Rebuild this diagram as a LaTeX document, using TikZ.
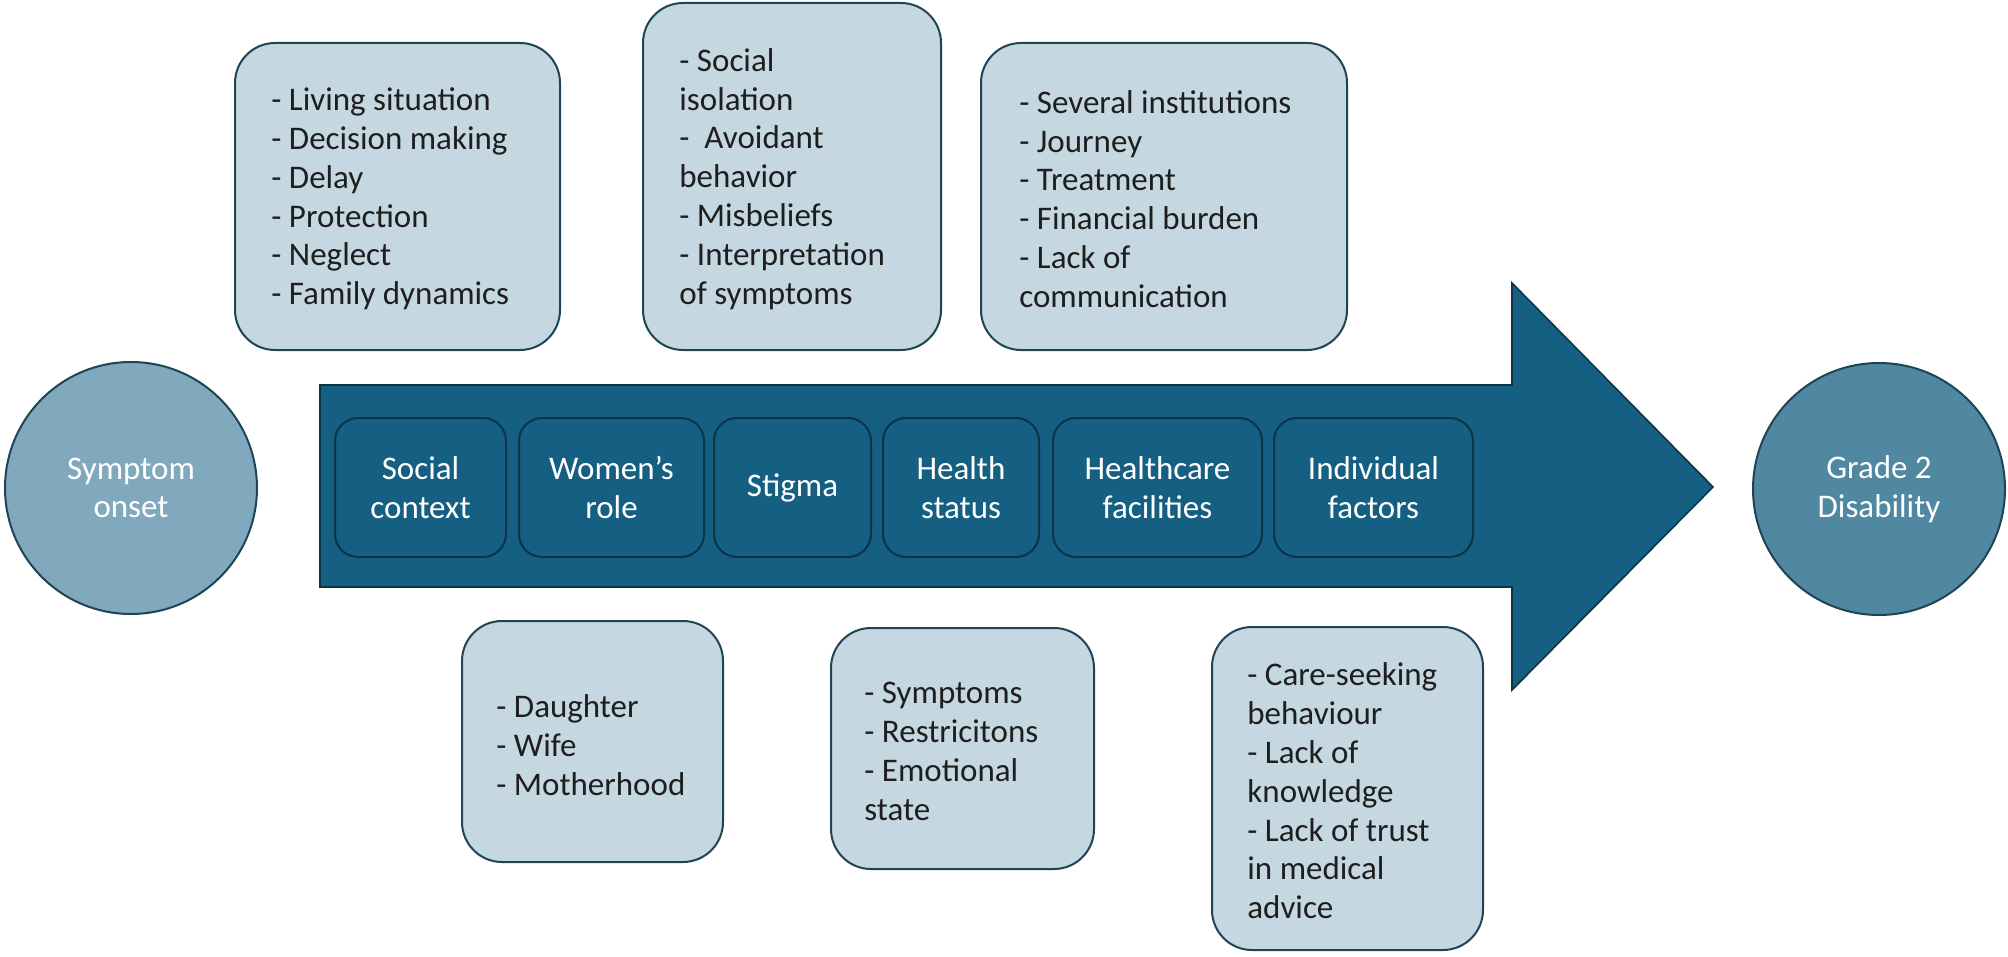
\documentclass[tikz,border=0pt]{standalone}
\usepackage{fontspec}
\setmainfont{Carlito}
\definecolor{accent}{HTML}{156082}
\definecolor{lightfill}{HTML}{C5D7E0}
\definecolor{onsetfill}{HTML}{80A9BD}
\definecolor{gradefill}{HTML}{5088A1}
\definecolor{edge}{HTML}{1F4456}
\definecolor{inneredge}{HTML}{0B3447}
\definecolor{textdark}{HTML}{1E1E1E}
\begin{document}
\begin{tikzpicture}[x=0.5pt,y=-0.5pt,
  lightbox/.style={draw=edge, fill=lightfill, line width=1pt, rounded corners=20pt, inner sep=0pt},
  listtext/.style={text=textdark, align=left, inner sep=0pt, anchor=west, font=\fontsize{16.5pt}{19.4pt}\selectfont},
  factor/.style={draw=inneredge, fill=accent, line width=1pt, rounded corners=11.5pt, minimum height=69.5pt, inner sep=0pt, text=white, align=center, font=\fontsize{16.5pt}{19.4pt}\selectfont},
  endpoint/.style={circle, draw=edge, line width=1pt, minimum size=126pt, inner sep=0pt, text=white, align=center, font=\fontsize{16.5pt}{19.4pt}\selectfont}]
\useasboundingbox (0,0) rectangle (2008,957);

% main arrow
\path[draw=inneredge, fill=accent, line width=0.8pt]
  (320,385) -- (1512,385) -- (1512,283) -- (1713,487) -- (1512,690) -- (1512,587) -- (320,587) -- cycle;

% end points
\node[endpoint, fill=onsetfill] (onset) at (131,488) {Symptom\\onset};
\node[endpoint, fill=gradefill] (grade) at (1879,489) {Grade 2\\Disability};

% factors on the arrow
\node[factor, minimum width=85.5pt]  (social) at (420.5,487.5) {Social\\context};
\node[factor, minimum width=92.5pt]  (women)  at (611.5,487.5) {Women’s\\role};
\node[factor, minimum width=78.5pt]  (stigma) at (792.5,487.5) {Stigma};
\node[factor, minimum width=78pt]    (health) at (961,487.5) {Health\\status};
\node[factor, minimum width=104.5pt] (care)   at (1157.5,487.5) {Healthcare\\facilities};
\node[factor, minimum width=99.5pt]  (indiv)  at (1373.5,487.5) {Individual\\factors};

% upper detail boxes
\node[lightbox, minimum width=162.5pt, minimum height=153.5pt] (b1) at (397.5,196.5) {};
\node[listtext] (t1) at (271,199) {- Living situation\\- Decision making\\- Delay\\- Protection\\- Neglect\\- Family dynamics};

\node[lightbox, minimum width=149pt, minimum height=173.5pt] (b2) at (792,176.5) {};
\node[listtext] (t2) at (679,179) {- Social\\isolation\\-\ \ Avoidant\\behavior\\- Misbeliefs\\- Interpretation\\of symptoms};

\node[lightbox, minimum width=183pt, minimum height=153.5pt] (b3) at (1164,196.5) {};
\node[listtext] (t3) at (1019,199) {- Several institutions\\- Journey\\- Treatment\\- Financial burden\\- Lack of\\communication};

% lower detail boxes
\node[lightbox, minimum width=130.5pt, minimum height=120.5pt] (b4) at (592.5,741.5) {};
\node[listtext] (t4) at (496,745) {- Daughter\\- Wife\\- Motherhood};

\node[lightbox, minimum width=131.5pt, minimum height=120.5pt] (b5) at (962.5,748.5) {};
\node[listtext] (t5) at (864,751.5) {- Symptoms\\- Restricitons\\- Emotional\\state};

\node[lightbox, minimum width=135.5pt, minimum height=161.5pt] (b6) at (1347.5,788.5) {};
\node[listtext] (t6) at (1247,791) {- Care-seeking\\behaviour\\- Lack of\\knowledge\\- Lack of trust\\in medical\\advice};
\end{tikzpicture}
\end{document}
